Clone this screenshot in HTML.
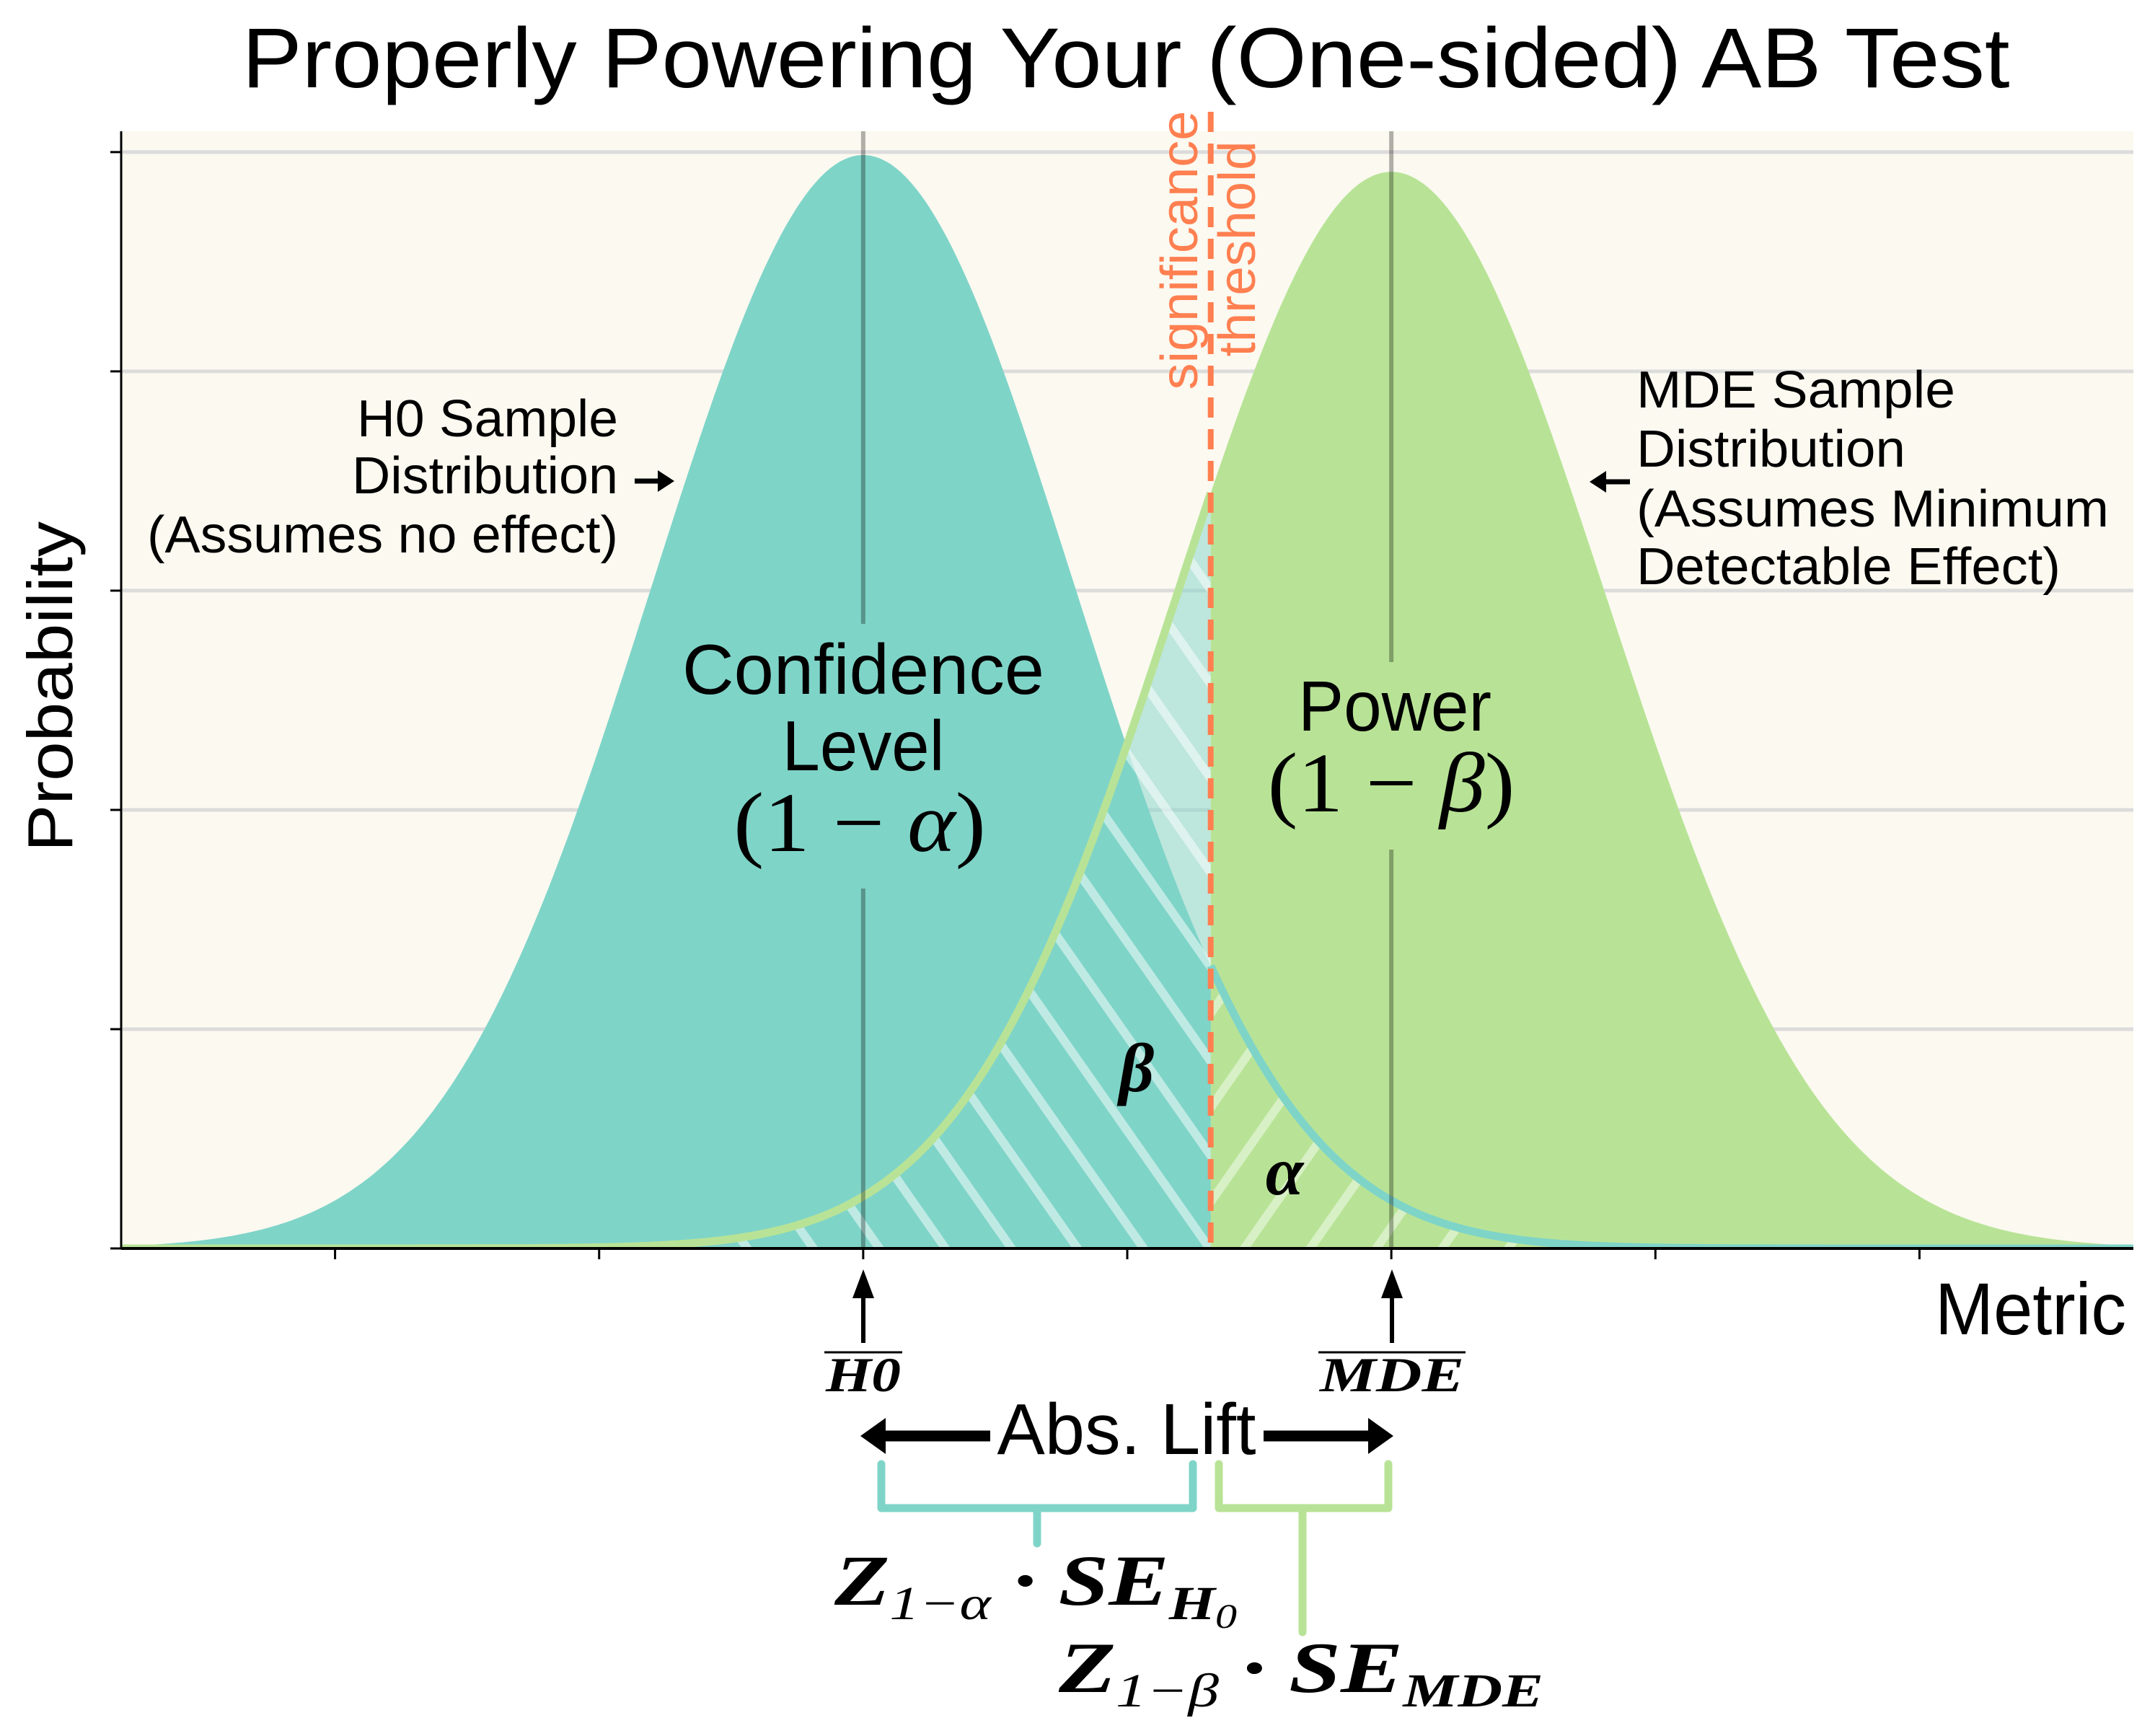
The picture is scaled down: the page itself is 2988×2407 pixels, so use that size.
<!DOCTYPE html>
<html><head><meta charset="utf-8"><style>
html,body{margin:0;padding:0;background:#fff;}
svg{display:block;}
.s{font-family:"Liberation Sans",sans-serif;}
.m{font-family:"Liberation Serif","DejaVu Serif",serif;font-style:italic;}
</style></head><body>
<svg id="chart" width="2988" height="2407" viewBox="0 0 2988 2407" xmlns="http://www.w3.org/2000/svg">
<defs>
<pattern id="hatchB" patternUnits="userSpaceOnUse" width="75" height="75" patternTransform="rotate(-35)">
<rect x="0" y="0" width="12" height="75" fill="#fff" fill-opacity="0.5"/></pattern>
<pattern id="hatchA" patternUnits="userSpaceOnUse" width="75" height="75" patternTransform="rotate(35)">
<rect x="0" y="0" width="12" height="75" fill="#fff" fill-opacity="0.45"/></pattern>
<clipPath id="plotClip"><rect x="168" y="182" width="2790" height="1550"/></clipPath>
</defs>
<rect x="168" y="182" width="2790" height="1550" fill="#fbf9f0"/>
<g id="grid"></g>
<g id="fills" clip-path="url(#plotClip)"></g>
<g id="axes"></g>
<g id="annot"></g>

<text class="s" x="1561" y="121" font-size="118" text-anchor="middle" textLength="2451" lengthAdjust="spacingAndGlyphs">Properly Powering Your (One-sided) AB Test</text>
<text class="s" transform="translate(100,952) rotate(-90)" font-size="88" text-anchor="middle" textLength="458" lengthAdjust="spacingAndGlyphs">Probability</text>
<text class="s" x="2683" y="1850" font-size="102" textLength="265" lengthAdjust="spacingAndGlyphs">Metric</text>

<g class="s" font-size="72" text-anchor="end">
<text x="857" y="605" textLength="362" lengthAdjust="spacingAndGlyphs">H0 Sample</text>
<text x="857" y="684" textLength="369" lengthAdjust="spacingAndGlyphs">Distribution</text>
<text x="857" y="766" textLength="653" lengthAdjust="spacingAndGlyphs">(Assumes no effect)</text>
</g>
<g>
<line x1="880" y1="667" x2="915" y2="667" stroke="#000" stroke-width="7"/>
<polygon points="935,667 912,652 912,682" fill="#000"/>
</g>
<g class="s" font-size="72">
<text x="2269" y="565" textLength="442" lengthAdjust="spacingAndGlyphs">MDE Sample</text>
<text x="2269" y="647" textLength="373" lengthAdjust="spacingAndGlyphs">Distribution</text>
<text x="2269" y="730" textLength="655" lengthAdjust="spacingAndGlyphs">(Assumes Minimum</text>
<text x="2269" y="810" textLength="588" lengthAdjust="spacingAndGlyphs">Detectable Effect)</text>
</g>
<g>
<line x1="2260" y1="668" x2="2225" y2="668" stroke="#000" stroke-width="7"/>
<polygon points="2204,668 2227,653 2227,683" fill="#000"/>
</g>

<g text-anchor="middle">
<text class="s" x="1197" y="962" font-size="98" textLength="502" lengthAdjust="spacingAndGlyphs">Confidence</text>
<text class="s" x="1197" y="1068" font-size="98" textLength="225" lengthAdjust="spacingAndGlyphs">Level</text>
<text x="1192" y="1180" font-size="118" font-family="Liberation Serif,serif" textLength="350" lengthAdjust="spacingAndGlyphs">(1 − <tspan font-style="italic">α</tspan>)</text>
</g>
<g text-anchor="middle">
<text class="s" x="1934" y="1013" font-size="98" textLength="268" lengthAdjust="spacingAndGlyphs">Power</text>
<text x="1929" y="1125" font-size="118" font-family="Liberation Serif,serif" textLength="343" lengthAdjust="spacingAndGlyphs">(1 − <tspan font-style="italic">β</tspan>)</text>
</g>
<text class="m" x="1576" y="1513" font-size="95" font-weight="bold" text-anchor="middle">β</text>
<text class="m" x="1781" y="1656" font-size="95" font-weight="bold" text-anchor="middle">α</text>
<text class="s" transform="translate(1660,347) rotate(-90)" font-size="72" fill="#ff7f50" text-anchor="middle" textLength="387" lengthAdjust="spacingAndGlyphs">significance</text>
<text class="s" transform="translate(1740,345) rotate(-90)" font-size="72" fill="#ff7f50" text-anchor="middle" textLength="299" lengthAdjust="spacingAndGlyphs">threshold</text>

<g>
<line x1="1197" y1="1862" x2="1197" y2="1795" stroke="#000" stroke-width="6"/>
<polygon points="1197,1760 1182,1800 1212,1800" fill="#000"/>
</g>
<g>
<line x1="1930" y1="1862" x2="1930" y2="1795" stroke="#000" stroke-width="6"/>
<polygon points="1930,1760 1915,1800 1945,1800" fill="#000"/>
</g>
<g>
<line x1="1143" y1="1875" x2="1251" y2="1875" stroke="#000" stroke-width="3"/>
<text class="m" x="1197" y="1929" font-size="68" font-weight="bold" text-anchor="middle" textLength="104" lengthAdjust="spacingAndGlyphs">H0</text>
</g>
<g>
<line x1="1828" y1="1875" x2="2032" y2="1875" stroke="#000" stroke-width="3"/>
<text class="m" x="1930" y="1929" font-size="68" font-weight="bold" text-anchor="middle" textLength="200" lengthAdjust="spacingAndGlyphs">MDE</text>
</g>
<g>
<text class="s" x="1562" y="2016" font-size="100" text-anchor="middle" textLength="359" lengthAdjust="spacingAndGlyphs">Abs. Lift</text>
<line x1="1373" y1="1991" x2="1225" y2="1991" stroke="#000" stroke-width="15"/>
<polygon points="1193,1991 1228,1966 1228,2016" fill="#000"/>
<line x1="1752" y1="1991" x2="1900" y2="1991" stroke="#000" stroke-width="15"/>
<polygon points="1932,1991 1897,1966 1897,2016" fill="#000"/>
</g>
<path d="M1222,2030 V2091 H1654 V2030 M1438,2091 V2140" fill="none" stroke="#7fd4c8" stroke-width="11" stroke-linecap="round" stroke-linejoin="round"/>
<path d="M1690,2030 V2091 H1925 V2030 M1806,2091 V2263" fill="none" stroke="#b8e396" stroke-width="11" stroke-linecap="round" stroke-linejoin="round"/>
<text class="m" x="1157" y="2225" font-size="100" font-weight="bold" textLength="558" lengthAdjust="spacingAndGlyphs">Z<tspan font-size="66" font-weight="normal" dy="20">1−α</tspan><tspan dy="-20"> · SE</tspan><tspan font-size="66" dy="20">H</tspan><tspan font-size="48" font-weight="normal" dy="12">0</tspan></text>
<text class="m" x="1468" y="2346" font-size="100" font-weight="bold" textLength="672" lengthAdjust="spacingAndGlyphs">Z<tspan font-size="66" font-weight="normal" dy="20">1−β</tspan><tspan dy="-20"> · SE</tspan><tspan font-size="66" dy="20">MDE</tspan></text>

<script>
const xTicks = [-2, -1, 0, 1, 2, 3, 4];
const yTicks = [0, 0.1, 0.2, 0.3, 0.4, 0.5];
const distNames = ['h0', 'mde'];
const distMeans = [0, 2];
const distSds = [0.8, 0.8125];
const thresholdValue = [1.316];
const xDomain = [-2.81, 4.81];
const yDomain = [0, 0.5095];

const L = 168, R = 2958, T = 182, B = 1731;
function sx(v) { return L + (v - xDomain[0]) / (xDomain[1] - xDomain[0]) * (R - L); }
function sy(v) { return B - (v - yDomain[0]) / (yDomain[1] - yDomain[0]) * (B - T); }
function pdf(x, m, s) { return Math.exp(-0.5 * ((x - m) / s) ** 2) / (s * Math.sqrt(2 * Math.PI)); }
const NS = 'http://www.w3.org/2000/svg';
function mk(tag, attrs, parent) {
  const e = document.createElementNS(NS, tag);
  for (const k in attrs) e.setAttribute(k, attrs[k]);
  parent.appendChild(e);
  return e;
}
const thr = thresholdValue[0];
function curvePts(i, a, b) {
  const pts = [];
  const n = 400;
  for (let k = 0; k <= n; k++) {
    const x = a + (b - a) * k / n;
    pts.push(sx(x).toFixed(1) + ',' + sy(pdf(x, distMeans[i], distSds[i])).toFixed(1));
  }
  return pts;
}
function area(i, a, b) {
  return 'M' + sx(a) + ',' + B + ' L' + curvePts(i, a, b).join(' L') + ' L' + sx(b) + ',' + B + ' Z';
}
function line(i, a, b) { return 'M' + curvePts(i, a, b).join(' L'); }

const grid = document.getElementById('grid');
const fills = document.getElementById('fills');
const axes = document.getElementById('axes');
const annot = document.getElementById('annot');

yTicks.forEach(function (v) {
  if (v > 0) {
    const g = mk('line', { x1: L, x2: R, y1: sy(v), y2: sy(v), stroke: '#dcdcdc', 'stroke-width': 5 }, grid);
    
    
  }
  const t = mk('line', { x1: L - 15, x2: L, y1: sy(v), y2: sy(v), stroke: '#000', 'stroke-width': 3 }, axes);
  
  
});

const x0 = xDomain[0], x1 = xDomain[1];
let e;
e = mk('path', { d: area(1, x0, thr), fill: '#7fd4c8', 'fill-opacity': 0.5 }, fills);


e = mk('path', { d: area(0, x0, x1), fill: '#7fd4c8' }, fills);


e = mk('path', { d: area(1, thr, x1), fill: '#b8e396' }, fills);


e = mk('path', { d: area(1, x0, thr), fill: 'url(#hatchB)' }, fills);


e = mk('path', { d: area(0, thr, x1), fill: 'url(#hatchA)' }, fills);


e = mk('path', { d: line(1, x0, thr), fill: 'none', stroke: '#b8e396', 'stroke-width': 11 }, fills);


e = mk('path', { d: line(0, thr, x1), fill: 'none', stroke: '#7fd4c8', 'stroke-width': 11 }, fills);



const gaps = [[865, 1232], [918, 1178]];
distMeans.forEach(function (m, i) {
  const x = sx(m);
  let a = mk('line', { x1: x, x2: x, y1: T, y2: gaps[i][0], stroke: '#000', 'stroke-opacity': 0.3, 'stroke-width': 6 }, fills);
  
  
  a = mk('line', { x1: x, x2: x, y1: gaps[i][1], y2: B, stroke: '#000', 'stroke-opacity': 0.3, 'stroke-width': 6 }, fills);
  
  
});

e = mk('line', { x1: sx(thr), x2: sx(thr), y1: 155, y2: B, stroke: '#ff7f50', 'stroke-width': 8, 'stroke-dasharray': '28 16' }, annot);



e = mk('line', { x1: L, x2: L, y1: T, y2: B + 1.5, stroke: '#000', 'stroke-width': 3 }, axes);


e = mk('line', { x1: L, x2: R, y1: B, y2: B, stroke: '#000', 'stroke-width': 4 }, axes);


xTicks.forEach(function (v) {
  const t = mk('line', { x1: sx(v), x2: sx(v), y1: B, y2: B + 15, stroke: '#000', 'stroke-width': 3 }, axes);
  
  
});
</script>
</svg>
</body></html>
